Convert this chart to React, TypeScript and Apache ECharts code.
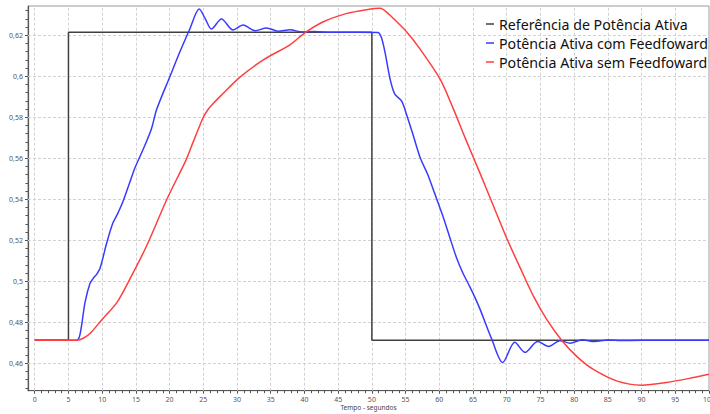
import React, { useEffect, useRef } from "react";
import * as echarts from "echarts";

// ---- data ----
const SERIES_NAMES = [
  "Referência de Potência Ativa",
  "Potência Ativa com Feedfoward",
  "Potência Ativa sem Feedfoward",
];

const refPoints: [number, number][] = [
  [0, 0.4712], [5, 0.4712], [5, 0.6215], [50, 0.6215], [50, 0.4712], [100, 0.4712],
];

const withFF: [number, number][] = [
  [0, 0.4712], [6.2, 0.4712], [6.7, 0.4738], [7.46, 0.4897], [8.2, 0.499], [8.7, 0.5015],
  [9.2, 0.5035], [9.7, 0.5065], [10.7, 0.519], [11.6, 0.5285], [12.3, 0.533], [13.1, 0.539],
  [14.1, 0.5483], [14.9, 0.5556], [16.1, 0.5645], [17.3, 0.5743], [18.1, 0.584], [20.1, 0.6003],
  [21.5, 0.6117], [23.0, 0.6231], [24.4, 0.6328], [25.3, 0.628], [26.2, 0.6231], [27.7, 0.628],
  [29.4, 0.6226], [30.9, 0.625], [32.7, 0.6222], [34.4, 0.6236], [36.1, 0.622], [37.9, 0.6227],
  [39.6, 0.6216], [41.5, 0.6218], [44, 0.6215], [48, 0.6215], [50.9, 0.6214], [51.4, 0.619],
  [51.95, 0.6117], [52.7, 0.5987], [53.4, 0.5913], [54.4, 0.588], [55.2, 0.5808], [56.15, 0.571],
  [57.2, 0.56], [58.3, 0.552], [59.3, 0.543], [60.4, 0.533], [61.5, 0.522], [62.5, 0.512],
  [63.5, 0.504], [64.5, 0.4975], [65.3, 0.492], [66.04, 0.4864], [67.77, 0.4718], [69.4, 0.4604],
  [71.2, 0.4702], [72.7, 0.4653], [74.6, 0.4706], [76.2, 0.4682], [77.9, 0.471], [79.4, 0.4698],
  [81.2, 0.4714], [83, 0.4706], [85, 0.4713], [87, 0.4711], [90, 0.4712], [100, 0.4712],
];

const withoutFF: [number, number][] = [
  [0, 0.4712], [6.3, 0.4712], [7.2, 0.4722], [8.2, 0.4745], [9.9, 0.481], [12.2, 0.4897],
  [14.1, 0.501], [16.6, 0.5173], [19.6, 0.54], [22.5, 0.5596], [23.5, 0.568], [24.3, 0.5745],
  [25.0, 0.58], [25.7, 0.5838], [26.5, 0.5868], [27.5, 0.5902], [30.4, 0.5995], [33.9, 0.608],
  [37.9, 0.6155], [40.1, 0.6213], [42.8, 0.6266], [46.3, 0.6307], [49.2, 0.6325], [51.2, 0.6332],
  [52.7, 0.6298], [53.2, 0.6282], [55.2, 0.6215], [57.1, 0.6135], [60.1, 0.5987], [62.1, 0.584],
  [63.8, 0.5702], [66, 0.553], [68, 0.537], [70, 0.521], [72, 0.5065], [74, 0.4925], [76, 0.481],
  [78.2, 0.471], [80.5, 0.463], [82.8, 0.4571], [86.3, 0.4514], [90, 0.4493], [93.7, 0.4506],
  [97.7, 0.453], [100, 0.4546],
];

const X_TICKS = [0, 5, 10, 15, 20, 25, 30, 35, 40, 45, 50, 55, 60, 65, 70, 75, 80, 85, 90, 95, 100];
const Y_TICKS = [0.46, 0.48, 0.5, 0.52, 0.54, 0.56, 0.58, 0.6, 0.62];
const X_MINOR_STEP = 1;
const Y_MINOR_STEP = 0.004;
const X_MIN = -1;
const X_MAX = 100;
const Y_MIN = 0.4466;
const Y_MAX = 0.6343;
const X_NAME = "Tempo - segundos";

const COLORS = ["#404040", "#3a3aff", "#ff3f3f"];

function range(a: number, b: number, step: number): number[] {
  const out: number[] = [];
  const n = Math.round((b - a) / step);
  for (let i = 0; i <= n; i++) out.push(+(a + i * step).toFixed(6));
  return out;
}

export default function App() {
  const ref = useRef<HTMLDivElement>(null);
  useEffect(() => {
    if (!ref.current) return;
    const chart = echarts.init(ref.current, undefined, { renderer: "svg" });
    const xMinor = range(0, 100, X_MINOR_STEP);
    const yMinor = range(0.448, 0.632, Y_MINOR_STEP);
    const font = "'Noto Sans', sans-serif";
    const mk = (name: string, data: [number, number][], color: string, smooth: number | boolean) => ({
      name,
      type: "line",
      data,
      smooth,
      showSymbol: false,
      symbol: "none",
      z: 3,
      lineStyle: { color, width: 1.5 },
      itemStyle: { color },
      xAxisIndex: 0,
      yAxisIndex: 0,
    });
    const axisLine = { show: true, onZero: false, lineStyle: { color: "#555", width: 1.2 } };
    chart.setOption({
      animation: false,
      backgroundColor: "#ffffff",
      grid: {
        left: 28,
        right: 1,
        top: 6,
        bottom: 23.3,
        show: true,
        borderColor: "#9a9a9a",
        borderWidth: 1,
        backgroundColor: "transparent",
        containLabel: false,
        outerBoundsMode: "none",
      },
      legend: {
        data: SERIES_NAMES,
        orient: "vertical",
        left: 486,
        top: 14.5,
        padding: 0,
        itemGap: 0,
        itemWidth: 8,
        itemHeight: 1.5,
        icon: "rect",
        textStyle: { fontFamily: font, fontSize: 14.2, color: "#111", lineHeight: 19 },
      },
      xAxis: [
        {
          type: "value",
          min: X_MIN,
          max: X_MAX,
          position: "bottom",
          name: X_NAME,
          nameLocation: "middle",
          nameGap: 13.5,
          nameMoveOverlap: false,
          nameTextStyle: { fontFamily: font, fontSize: 6.5, color: "#444", lineHeight: 7 },
          axisLine,
          axisTick: { show: true, customValues: X_TICKS, length: 3, lineStyle: { color: "#555" } },
          axisLabel: { customValues: X_TICKS, fontFamily: font, fontSize: 7, color: "#555", margin: 5 },
          splitLine: { show: false },
        },
        {
          type: "value",
          min: X_MIN,
          max: X_MAX,
          position: "bottom",
          axisLine: { show: false, onZero: false },
          axisTick: { show: true, customValues: xMinor, length: 2.5, lineStyle: { color: "#555" } },
          axisLabel: { show: false },
          splitLine: { show: false },
        },
      ],
      yAxis: [
        {
          type: "value",
          min: Y_MIN,
          max: Y_MAX,
          position: "left",
          axisLine,
          axisTick: { show: true, customValues: Y_TICKS, length: 3, lineStyle: { color: "#555" } },
          axisLabel: {
            customValues: Y_TICKS,
            fontFamily: font,
            fontSize: 7,
            color: "#555",
            margin: 5,
            formatter: (v: number) => String(+v.toFixed(2)).replace(".", ","),
          },
          splitLine: { show: false },
        },
        {
          type: "value",
          min: Y_MIN,
          max: Y_MAX,
          position: "left",
          axisLine: { show: false, onZero: false },
          axisTick: { show: true, customValues: yMinor, length: 2.5, lineStyle: { color: "#555" } },
          axisLabel: { show: false },
          splitLine: { show: false },
        },
      ],
      series: [
        {
          type: "line",
          data: [],
          silent: true,
          z: 1,
          xAxisIndex: 0,
          yAxisIndex: 0,
          markLine: {
            silent: true,
            animation: false,
            z: 1,
            symbol: ["none", "none"],
            label: { show: false },
            emphasis: { disabled: true },
            lineStyle: { color: "#d2d2d2", type: [3, 2], width: 1 },
            data: [
              ...X_TICKS.map((x) => ({ xAxis: x })),
              ...Y_TICKS.map((y) => ({ yAxis: y })),
            ],
          },
        },
        mk(SERIES_NAMES[0], refPoints, COLORS[0], false),
        mk(SERIES_NAMES[1], withFF, COLORS[1], 0.3),
        mk(SERIES_NAMES[2], withoutFF, COLORS[2], 0.3),
      ],
    });
    return () => chart.dispose();
  }, []);
  return (
    <div
      ref={ref}
      style={{ position: "absolute", left: 0, top: 0, width: 710, height: 414, background: "#fff" }}
    />
  );
}
